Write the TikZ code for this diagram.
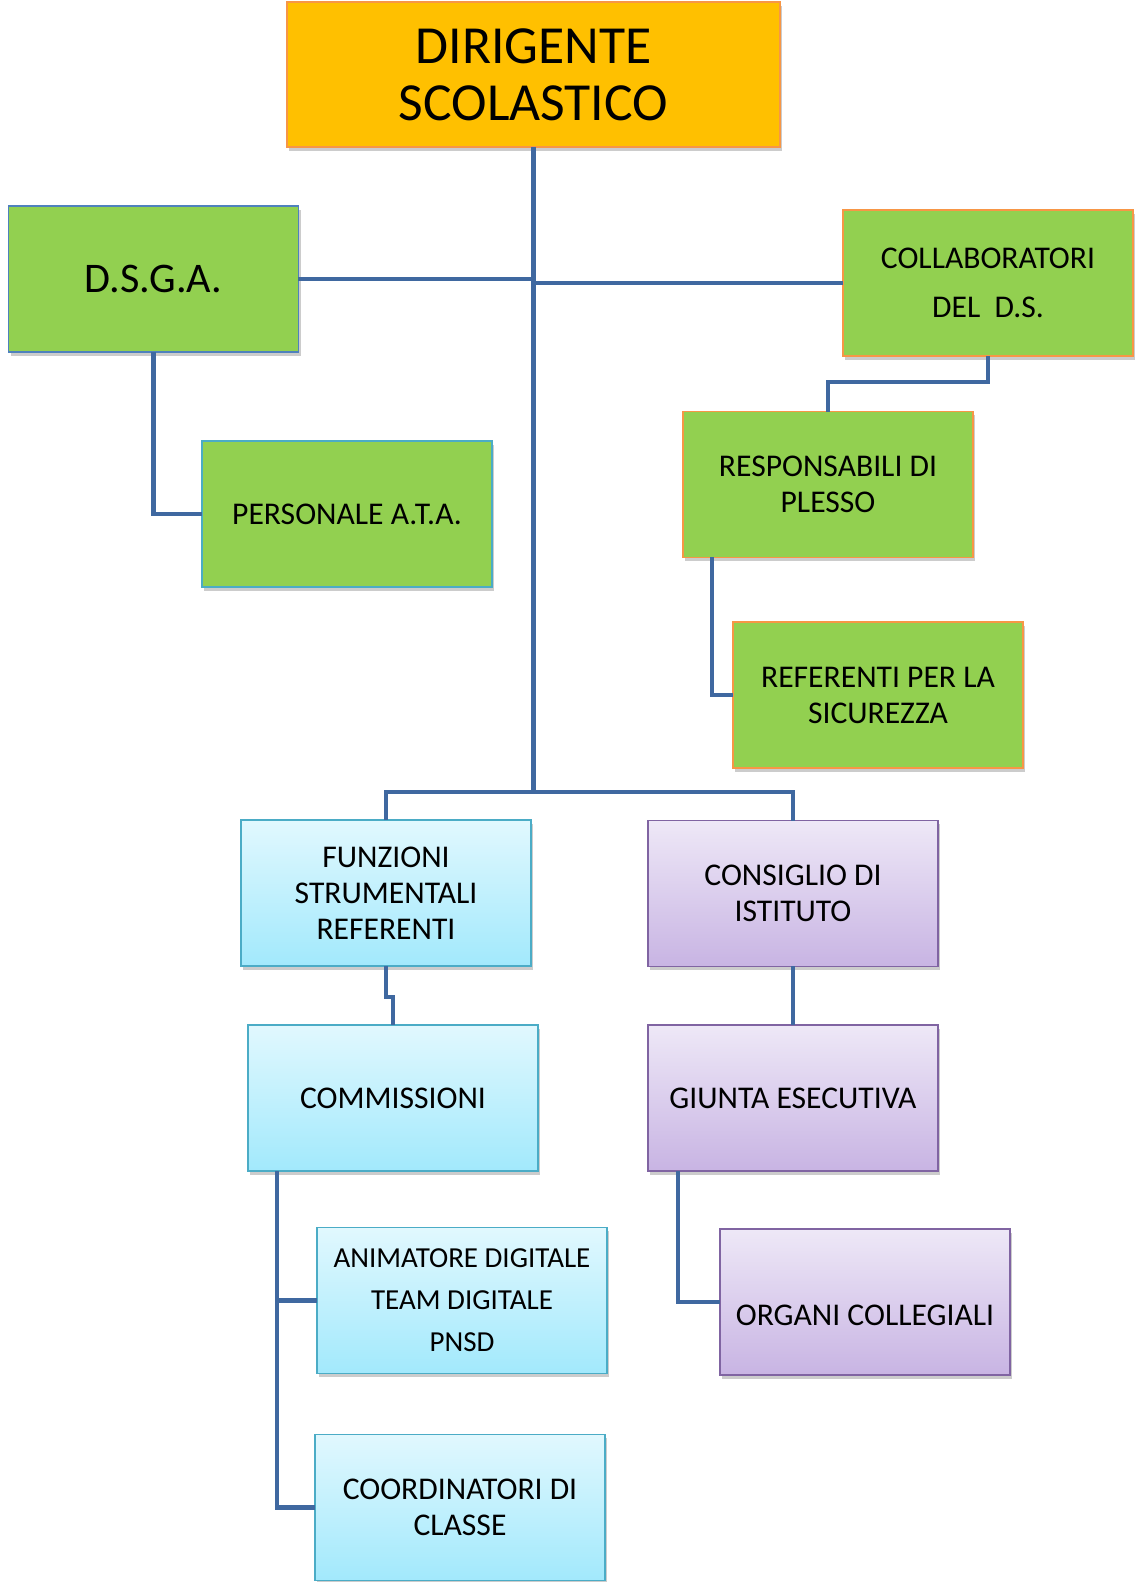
\documentclass[tikz,border=0pt]{standalone}
\usepackage{fontspec}
\setmainfont{Carlito}
\usetikzlibrary{shadows}

\definecolor{dirfill}{HTML}{FFC000}
\definecolor{orline}{HTML}{F79646}
\definecolor{grfill}{HTML}{92D050}
\definecolor{blline}{HTML}{4F81BD}
\definecolor{cyline}{HTML}{4BACC6}
\definecolor{cytop}{HTML}{E1F8FE}
\definecolor{cybot}{HTML}{A2E9FC}
\definecolor{pucolor}{HTML}{8064A2}
\definecolor{putop}{HTML}{EEE8F7}
\definecolor{pubot}{HTML}{C8B4E3}
\definecolor{linkcolor}{HTML}{3F68A0}

\tikzset{
  box/.style={draw, line width=1.1pt, minimum width=5.8cm, minimum height=2.92cm,
    inner sep=0pt, outer sep=0pt, align=center, font=\fontsize{18}{20.5}\selectfont,
    drop shadow={shadow xshift=1.2pt, shadow yshift=-2.2pt, fill=black, opacity=.2}},
  greenbox/.style={box, fill=grfill, draw=orline},
  cyanbox/.style={box, top color=cytop, bottom color=cybot, draw=cyline},
  purplebox/.style={box, top color=putop, bottom color=pubot, draw=pucolor},
  link/.style={draw=linkcolor, line width=2.8pt}
}

\begin{document}
\begin{tikzpicture}[x=0.02cm, y=-0.02cm]
	%%%%% START %%%%%
	\useasboundingbox (0,0) rectangle (1134,1582);
	
	\node[box, fill=dirfill, draw=orline, minimum width=9.86cm, minimum height=2.9cm,
	  font=\fontsize{30.5}{32.5}\selectfont] (dir) at (533.5, 74.5) {DIRIGENTE\\SCOLASTICO};
	
	\node[greenbox, draw=blline, font=\fontsize{24}{28}\selectfont] (dsga) at (153.5, 279) {D.S.G.A.};
	\node[greenbox, draw=cyline] (pers) at (347, 514) {PERSONALE A.T.A.};
	
	\node[greenbox, font=\fontsize{18}{28}\selectfont] (collab) at (988, 283) {COLLABORATORI\\DEL\ \ D.S.};
	\node[greenbox] (resp) at (828, 484.5) {RESPONSABILI DI\\PLESSO};
	\node[greenbox] (ref) at (878, 695) {REFERENTI PER LA\\SICUREZZA};
	
	\node[cyanbox] (funz) at (386, 893) {FUNZIONI\\STRUMENTALI\\REFERENTI};
	\node[cyanbox] (comm) at (393, 1098) {COMMISSIONI};
	\node[cyanbox, font=\fontsize{16.5}{24}\selectfont] (anim) at (462, 1300.5) {ANIMATORE DIGITALE\\TEAM DIGITALE\\PNSD};
	\node[cyanbox] (coord) at (460, 1507.5) {COORDINATORI DI\\CLASSE};
	
	\node[purplebox] (cons) at (793, 893.5) {CONSIGLIO DI\\ISTITUTO};
	\node[purplebox] (giunta) at (793, 1098) {GIUNTA ESECUTIVA};
	\node[purplebox, text height=1.05cm, text depth=0.1cm] (organi) at (865, 1302) {ORGANI COLLEGIALI};
	
	\coordinate (hub) at (533.5, 792);
	
	% tronco centrale
	\draw[link] (dir.south) -- (hub);
	\draw[link] (dsga.east) -- (dsga.east -| dir.south);
	\draw[link] (collab.west) -- (collab.west -| dir.south);
	
	\draw[link] (dsga.south) |- (pers.west);
	\draw[link] (collab.south) -- ++(0,26) -| (resp.north);
	\draw[link] (resp.south west) ++(29,0) |- (ref.west);
	
	\draw[link] (funz.north) |- (hub) -| (cons.north);
	\draw[link] (funz.south) -- ++(0,31) -| (comm.north);
	\draw[link] (cons.south) -- (giunta.north);
	
	\draw[link] (comm.south west) ++(29,0) |- (anim.west);
	\draw[link] (comm.south west) ++(29,0) |- (coord.west);
	\draw[link] (giunta.south west) ++(30,0) |- (organi.west);
	%%%%% END %%%%%
\end{tikzpicture}
\end{document}
